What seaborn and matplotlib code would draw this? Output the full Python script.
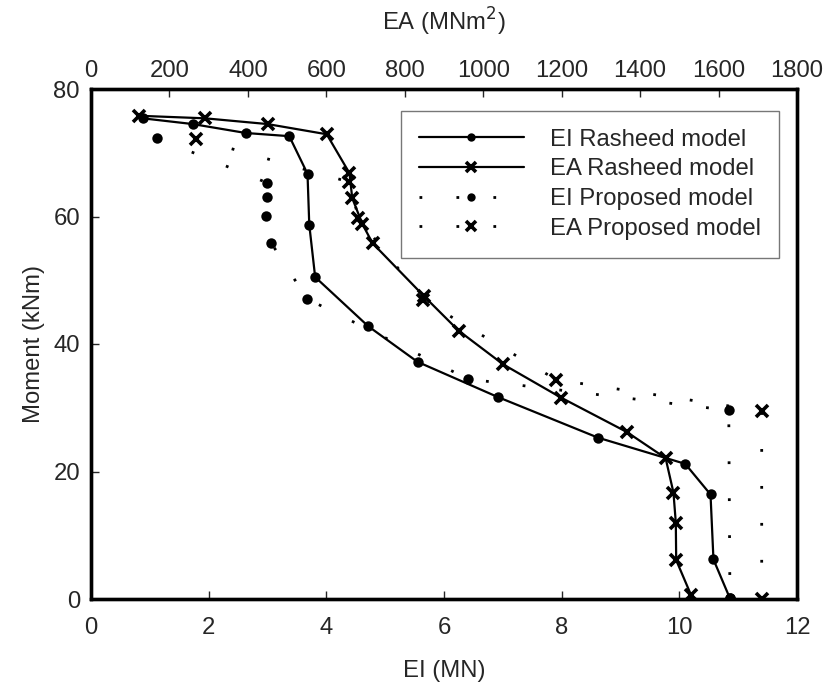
import matplotlib
matplotlib.use("Agg")
import matplotlib.pyplot as plt
import numpy as np
import pandas as pd
import seaborn as sns

# EI (MN) vs moment (kNm), bottom axis
ei_rasheed_x = [0.88, 1.73, 2.63, 3.37, 3.68, 3.71, 3.81, 4.71, 5.55, 6.91, 8.62, 10.10, 10.53, 10.58, 10.86]
ei_rasheed_m = [75.4, 74.5, 73.1, 72.6, 66.7, 58.7, 50.5, 42.8, 37.2, 31.7, 25.3, 21.2, 16.4, 6.2, 0.1]

ei_proposed_x = [1.13, 2.99, 2.99, 2.97, 3.06, 3.67, 6.41, 10.84, 10.86]
ei_proposed_m = [72.3, 65.3, 63.0, 60.1, 55.9, 47.1, 34.5, 29.6, 0.1]

# EA (MNm2) vs moment (kNm), top axis
ea_rasheed_x = [123, 291, 450, 601, 659, 666, 692, 718, 849, 937, 1051, 1198, 1366, 1465, 1485, 1491, 1492, 1530]
ea_rasheed_m = [75.8, 75.4, 74.5, 72.9, 66.8, 62.9, 58.8, 55.8, 47.5, 42.1, 36.8, 31.6, 26.2, 22.1, 16.7, 12.0, 6.1, 0.6]

ea_proposed_x = [268, 659, 682, 847, 1186, 1710, 1710]
ea_proposed_m = [72.2, 65.4, 59.7, 46.9, 34.4, 29.5, 0.0]

sns.set_theme(style="ticks")
plt.rcParams["font.family"] = ["Liberation Sans", "DejaVu Sans"]
FS = 17.2

fig = plt.figure(figsize=(8.26, 6.87), dpi=100)
ax = fig.add_axes([91 / 826, 1 - 599 / 687, 706 / 826, 510 / 687])
ax2 = ax.twiny()

solid = dict(color="black", linewidth=1.6, sort=False, estimator=None)
dotted = dict(color="black", linewidth=2.0, sort=False, estimator=None,
              linestyle=(0, (1, 12.3)))
circ = dict(marker="o", markersize=7.5, markeredgewidth=0, markeredgecolor="black")
cross = dict(marker="x", markersize=9, markeredgewidth=2.6, markeredgecolor="black")

df_eir = pd.DataFrame({"x": ei_rasheed_x, "m": ei_rasheed_m})
df_eip = pd.DataFrame({"x": ei_proposed_x, "m": ei_proposed_m})
df_ear = pd.DataFrame({"x": ea_rasheed_x, "m": ea_rasheed_m})
df_eap = pd.DataFrame({"x": ea_proposed_x, "m": ea_proposed_m})

sns.lineplot(data=df_eir, x="x", y="m", ax=ax, **solid, **circ)
sns.lineplot(data=df_eip, x="x", y="m", ax=ax, **dotted, **circ)
sns.lineplot(data=df_ear, x="x", y="m", ax=ax2, **solid, **cross)
sns.lineplot(data=df_eap, x="x", y="m", ax=ax2, **dotted, **cross)

ax.set_xlim(0, 12)
ax.set_ylim(0, 80)
ax2.set_xlim(0, 1800)
ax.set_xticks(np.arange(0, 13, 2))
ax.set_yticks(np.arange(0, 81, 20))
ax2.set_xticks(np.arange(0, 1801, 200))

ax.set_xlabel("EI (MN)", fontsize=FS, labelpad=15)
ax.set_ylabel("Moment (kNm)", fontsize=FS, labelpad=6)
ax2.set_xlabel("EA (MNm$^2$)", fontsize=FS, labelpad=21)

ax.tick_params(axis="x", direction="in", length=6, width=1, labelsize=FS, pad=13, top=False)
ax.tick_params(axis="y", direction="in", length=6, width=1, labelsize=FS, pad=8, right=False)
ax2.tick_params(axis="x", direction="in", length=6, width=1, labelsize=FS, pad=5)

for a in (ax, ax2):
    for s in a.spines.values():
        s.set_visible(True)
        s.set_linewidth(2.4)
        s.set_color("black")

# legend
l_eir = ax.lines[0]
l_eip = ax.lines[1]
l_ear = ax2.lines[0]
l_eap = ax2.lines[1]
leg = ax2.legend(
    [l_eir, l_ear, l_eip, l_eap],
    ["EI Rasheed model", "EA Rasheed model", "EI Proposed model", "EA Proposed model"],
    loc="upper right", bbox_to_anchor=(0.9745, 0.957), borderaxespad=0,
    fontsize=FS, handlelength=4.4, handletextpad=1.1, labelspacing=0.32,
    markerscale=0.8, fancybox=False, framealpha=1, edgecolor="#777777",
    borderpad=0.75,
)
leg.get_frame().set_linewidth(1.0)

fig.savefig("out.png", dpi=100)
